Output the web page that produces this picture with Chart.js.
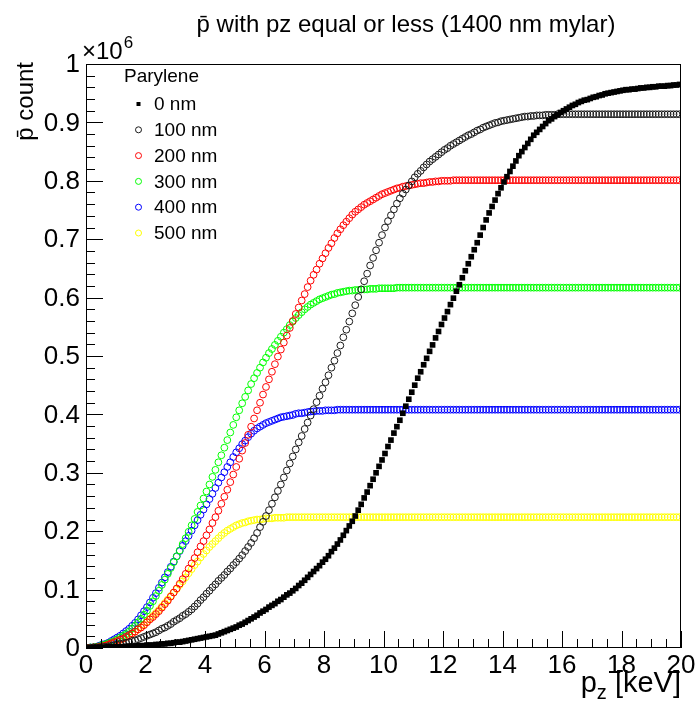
<!DOCTYPE html>
<html>
<head>
<meta charset="utf-8">
<title>pbar pz</title>
<script src="https://cdn.jsdelivr.net/npm/chart.js@4.4.1/dist/chart.umd.min.js"></script>
<style>
    body { margin: 0; background: #fff; }
    canvas { display: block; }
</style>
</head>
<body>
<canvas id="chart" width="695" height="703"></canvas>
<script>
// pz bins, 0.1 keV wide, 0 - 20 keV
const pz = Array.from({ length: 200 }, (_, i) => Math.round((0.05 + i * 0.1) * 100) / 100);

const thicknessLabels = ["0 nm", "100 nm", "200 nm", "300 nm", "400 nm", "500 nm"];
const seriesColors = ["#000000", "#1a1a1a", "#ff0000", "#00ff00", "#0000ff", "#ffff00"];

const xTickLabels = ["0", "2", "4", "6", "8", "10", "12", "14", "16", "18", "20"];
const yTickLabels = ["0", "0.1", "0.2", "0.3", "0.4", "0.5", "0.6", "0.7", "0.8", "0.9", "1"];

// cumulative pbar counts (x 10^6) with pz <= bin, per parylene thickness
const count0nm = [
    0.000, 0.000, 0.001, 0.001, 0.001, 0.001, 0.001, 0.002, 0.002, 0.002,
    0.002, 0.002, 0.002, 0.003, 0.003, 0.003, 0.003, 0.004, 0.004, 0.004,
    0.005, 0.005, 0.005, 0.006, 0.006, 0.007, 0.007, 0.008, 0.008, 0.009,
    0.010, 0.010, 0.011, 0.012, 0.013, 0.014, 0.015, 0.016, 0.017, 0.018,
    0.019, 0.020, 0.021, 0.022, 0.024, 0.026, 0.028, 0.030, 0.032, 0.034,
    0.036, 0.039, 0.041, 0.044, 0.047, 0.050, 0.053, 0.056, 0.060, 0.063,
    0.066, 0.070, 0.073, 0.076, 0.080, 0.083, 0.087, 0.091, 0.094, 0.098,
    0.102, 0.107, 0.111, 0.116, 0.121, 0.126, 0.131, 0.136, 0.141, 0.147,
    0.152, 0.158, 0.165, 0.171, 0.178, 0.185, 0.193, 0.201, 0.209, 0.217,
    0.226, 0.236, 0.246, 0.257, 0.267, 0.278, 0.289, 0.300, 0.311, 0.322,
    0.333, 0.345, 0.356, 0.368, 0.379, 0.390, 0.402, 0.414, 0.426, 0.438,
    0.450, 0.462, 0.473, 0.485, 0.496, 0.508, 0.519, 0.531, 0.542, 0.554,
    0.565, 0.576, 0.588, 0.599, 0.611, 0.622, 0.634, 0.646, 0.658, 0.670,
    0.682, 0.694, 0.707, 0.720, 0.733, 0.745, 0.756, 0.767, 0.778, 0.788,
    0.798, 0.807, 0.816, 0.825, 0.834, 0.843, 0.850, 0.857, 0.864, 0.871,
    0.878, 0.883, 0.888, 0.893, 0.898, 0.903, 0.906, 0.910, 0.913, 0.917,
    0.920, 0.923, 0.926, 0.929, 0.931, 0.934, 0.936, 0.938, 0.939, 0.941,
    0.943, 0.944, 0.946, 0.947, 0.949, 0.950, 0.951, 0.952, 0.953, 0.954,
    0.955, 0.956, 0.956, 0.957, 0.957, 0.958, 0.959, 0.959, 0.960, 0.960,
    0.961, 0.961, 0.962, 0.962, 0.962, 0.963, 0.963, 0.964, 0.964, 0.965
];

const count100nm = [
    0.000, 0.000, 0.001, 0.001, 0.001, 0.002, 0.002, 0.003, 0.004, 0.005,
    0.006, 0.007, 0.008, 0.009, 0.010, 0.012, 0.013, 0.015, 0.017, 0.019,
    0.021, 0.023, 0.025, 0.027, 0.030, 0.033, 0.035, 0.038, 0.041, 0.045,
    0.048, 0.051, 0.055, 0.058, 0.062, 0.066, 0.071, 0.076, 0.082, 0.087,
    0.093, 0.098, 0.104, 0.109, 0.115, 0.120, 0.125, 0.131, 0.136, 0.142,
    0.147, 0.153, 0.159, 0.166, 0.173, 0.180, 0.188, 0.197, 0.207, 0.216,
    0.226, 0.236, 0.247, 0.258, 0.269, 0.280, 0.292, 0.304, 0.316, 0.328,
    0.340, 0.352, 0.363, 0.375, 0.386, 0.398, 0.409, 0.421, 0.432, 0.444,
    0.455, 0.467, 0.480, 0.492, 0.505, 0.518, 0.532, 0.545, 0.559, 0.573,
    0.587, 0.601, 0.614, 0.628, 0.641, 0.655, 0.668, 0.681, 0.694, 0.707,
    0.720, 0.731, 0.741, 0.751, 0.761, 0.770, 0.778, 0.785, 0.792, 0.799,
    0.806, 0.812, 0.817, 0.823, 0.828, 0.833, 0.837, 0.841, 0.845, 0.849,
    0.853, 0.856, 0.860, 0.863, 0.866, 0.869, 0.872, 0.875, 0.878, 0.880,
    0.883, 0.886, 0.888, 0.891, 0.893, 0.895, 0.897, 0.899, 0.900, 0.902,
    0.903, 0.904, 0.905, 0.906, 0.907, 0.908, 0.909, 0.910, 0.910, 0.911,
    0.911, 0.912, 0.912, 0.912, 0.913, 0.913, 0.913, 0.913, 0.914, 0.914,
    0.914, 0.914, 0.914, 0.914, 0.914, 0.914, 0.914, 0.914, 0.914, 0.914,
    0.914, 0.914, 0.914, 0.914, 0.914, 0.914, 0.914, 0.914, 0.914, 0.914,
    0.914, 0.914, 0.914, 0.914, 0.914, 0.914, 0.914, 0.914, 0.914, 0.914,
    0.914, 0.914, 0.914, 0.914, 0.914, 0.914, 0.914, 0.914, 0.914, 0.914
];

const count200nm = [
    0.000, 0.000, 0.001, 0.001, 0.002, 0.003, 0.004, 0.006, 0.008, 0.010,
    0.012, 0.014, 0.016, 0.019, 0.022, 0.025, 0.028, 0.032, 0.035, 0.039,
    0.044, 0.049, 0.053, 0.058, 0.063, 0.069, 0.075, 0.081, 0.088, 0.095,
    0.102, 0.110, 0.118, 0.127, 0.136, 0.145, 0.154, 0.164, 0.174, 0.183,
    0.193, 0.203, 0.214, 0.224, 0.235, 0.247, 0.259, 0.271, 0.284, 0.297,
    0.310, 0.324, 0.338, 0.351, 0.365, 0.379, 0.393, 0.407, 0.420, 0.434,
    0.447, 0.460, 0.473, 0.486, 0.499, 0.511, 0.523, 0.535, 0.548, 0.560,
    0.572, 0.583, 0.595, 0.606, 0.618, 0.629, 0.639, 0.648, 0.658, 0.667,
    0.676, 0.685, 0.693, 0.702, 0.710, 0.717, 0.724, 0.730, 0.736, 0.742,
    0.747, 0.751, 0.755, 0.759, 0.762, 0.765, 0.768, 0.771, 0.774, 0.777,
    0.779, 0.781, 0.783, 0.785, 0.787, 0.788, 0.790, 0.791, 0.792, 0.793,
    0.794, 0.795, 0.796, 0.796, 0.797, 0.798, 0.798, 0.799, 0.799, 0.800,
    0.800, 0.800, 0.800, 0.801, 0.801, 0.801, 0.801, 0.801, 0.801, 0.801,
    0.801, 0.801, 0.801, 0.801, 0.801, 0.801, 0.801, 0.801, 0.801, 0.801,
    0.801, 0.801, 0.801, 0.801, 0.801, 0.801, 0.801, 0.801, 0.801, 0.801,
    0.801, 0.801, 0.801, 0.801, 0.801, 0.801, 0.801, 0.801, 0.801, 0.801,
    0.801, 0.801, 0.801, 0.801, 0.801, 0.801, 0.801, 0.801, 0.801, 0.801,
    0.801, 0.801, 0.801, 0.801, 0.801, 0.801, 0.801, 0.801, 0.801, 0.801,
    0.801, 0.801, 0.801, 0.801, 0.801, 0.801, 0.801, 0.801, 0.801, 0.801,
    0.801, 0.801, 0.801, 0.801, 0.801, 0.801, 0.801, 0.801, 0.801, 0.801
];

const count300nm = [
    0.000, 0.001, 0.001, 0.002, 0.003, 0.005, 0.006, 0.008, 0.010, 0.012,
    0.015, 0.018, 0.021, 0.024, 0.028, 0.033, 0.038, 0.044, 0.050, 0.057,
    0.064, 0.072, 0.080, 0.089, 0.098, 0.108, 0.117, 0.127, 0.137, 0.147,
    0.157, 0.167, 0.178, 0.188, 0.199, 0.210, 0.221, 0.233, 0.244, 0.256,
    0.268, 0.280, 0.293, 0.305, 0.318, 0.330, 0.343, 0.356, 0.369, 0.382,
    0.395, 0.407, 0.419, 0.430, 0.441, 0.452, 0.462, 0.471, 0.480, 0.489,
    0.497, 0.505, 0.512, 0.519, 0.526, 0.533, 0.540, 0.546, 0.553, 0.559,
    0.565, 0.570, 0.575, 0.580, 0.584, 0.588, 0.591, 0.594, 0.597, 0.599,
    0.601, 0.603, 0.605, 0.606, 0.608, 0.609, 0.610, 0.611, 0.612, 0.612,
    0.613, 0.613, 0.614, 0.614, 0.614, 0.615, 0.615, 0.615, 0.616, 0.616,
    0.616, 0.616, 0.616, 0.616, 0.617, 0.617, 0.617, 0.617, 0.617, 0.617,
    0.617, 0.617, 0.617, 0.617, 0.617, 0.617, 0.617, 0.617, 0.617, 0.617,
    0.617, 0.617, 0.617, 0.617, 0.617, 0.617, 0.617, 0.617, 0.617, 0.617,
    0.617, 0.617, 0.617, 0.617, 0.617, 0.617, 0.617, 0.617, 0.617, 0.617,
    0.617, 0.617, 0.617, 0.617, 0.617, 0.617, 0.617, 0.617, 0.617, 0.617,
    0.617, 0.617, 0.617, 0.617, 0.617, 0.617, 0.617, 0.617, 0.617, 0.617,
    0.617, 0.617, 0.617, 0.617, 0.617, 0.617, 0.617, 0.617, 0.617, 0.617,
    0.617, 0.617, 0.617, 0.617, 0.617, 0.617, 0.617, 0.617, 0.617, 0.617,
    0.617, 0.617, 0.617, 0.617, 0.617, 0.617, 0.617, 0.617, 0.617, 0.617,
    0.617, 0.617, 0.617, 0.617, 0.617, 0.617, 0.617, 0.617, 0.617, 0.617
];

const count400nm = [
    0.000, 0.001, 0.001, 0.002, 0.004, 0.006, 0.007, 0.009, 0.012, 0.015,
    0.018, 0.021, 0.025, 0.029, 0.033, 0.038, 0.043, 0.049, 0.056, 0.063,
    0.070, 0.078, 0.086, 0.094, 0.103, 0.112, 0.121, 0.130, 0.139, 0.148,
    0.157, 0.166, 0.175, 0.183, 0.192, 0.201, 0.210, 0.219, 0.228, 0.237,
    0.246, 0.255, 0.264, 0.274, 0.283, 0.292, 0.301, 0.310, 0.318, 0.327,
    0.335, 0.342, 0.349, 0.355, 0.361, 0.367, 0.372, 0.376, 0.379, 0.382,
    0.385, 0.387, 0.389, 0.391, 0.393, 0.395, 0.396, 0.397, 0.398, 0.399,
    0.401, 0.402, 0.402, 0.403, 0.404, 0.405, 0.405, 0.406, 0.406, 0.406,
    0.407, 0.407, 0.407, 0.407, 0.408, 0.408, 0.408, 0.408, 0.408, 0.408,
    0.408, 0.408, 0.408, 0.408, 0.408, 0.408, 0.408, 0.408, 0.408, 0.408,
    0.408, 0.408, 0.408, 0.408, 0.408, 0.408, 0.408, 0.408, 0.408, 0.408,
    0.408, 0.408, 0.408, 0.408, 0.408, 0.408, 0.408, 0.408, 0.408, 0.408,
    0.408, 0.408, 0.408, 0.408, 0.408, 0.408, 0.408, 0.408, 0.408, 0.408,
    0.408, 0.408, 0.408, 0.408, 0.408, 0.408, 0.408, 0.408, 0.408, 0.408,
    0.408, 0.408, 0.408, 0.408, 0.408, 0.408, 0.408, 0.408, 0.408, 0.408,
    0.408, 0.408, 0.408, 0.408, 0.408, 0.408, 0.408, 0.408, 0.408, 0.408,
    0.408, 0.408, 0.408, 0.408, 0.408, 0.408, 0.408, 0.408, 0.408, 0.408,
    0.408, 0.408, 0.408, 0.408, 0.408, 0.408, 0.408, 0.408, 0.408, 0.408,
    0.408, 0.408, 0.408, 0.408, 0.408, 0.408, 0.408, 0.408, 0.408, 0.408,
    0.408, 0.408, 0.408, 0.408, 0.408, 0.408, 0.408, 0.408, 0.408, 0.408
];

const count500nm = [
    0.000, 0.000, 0.001, 0.001, 0.002, 0.004, 0.005, 0.006, 0.008, 0.010,
    0.012, 0.014, 0.016, 0.019, 0.022, 0.025, 0.028, 0.032, 0.036, 0.040,
    0.045, 0.050, 0.055, 0.060, 0.065, 0.071, 0.077, 0.083, 0.089, 0.095,
    0.101, 0.108, 0.114, 0.121, 0.128, 0.135, 0.142, 0.148, 0.155, 0.161,
    0.167, 0.173, 0.178, 0.183, 0.188, 0.193, 0.197, 0.201, 0.204, 0.207,
    0.210, 0.212, 0.214, 0.215, 0.217, 0.218, 0.219, 0.220, 0.220, 0.221,
    0.222, 0.222, 0.222, 0.223, 0.223, 0.223, 0.223, 0.224, 0.224, 0.224,
    0.224, 0.224, 0.224, 0.224, 0.224, 0.224, 0.224, 0.224, 0.224, 0.224,
    0.224, 0.224, 0.224, 0.224, 0.224, 0.224, 0.224, 0.224, 0.224, 0.224,
    0.224, 0.224, 0.224, 0.224, 0.224, 0.224, 0.224, 0.224, 0.224, 0.224,
    0.224, 0.224, 0.224, 0.224, 0.224, 0.224, 0.224, 0.224, 0.224, 0.224,
    0.224, 0.224, 0.224, 0.224, 0.224, 0.224, 0.224, 0.224, 0.224, 0.224,
    0.224, 0.224, 0.224, 0.224, 0.224, 0.224, 0.224, 0.224, 0.224, 0.224,
    0.224, 0.224, 0.224, 0.224, 0.224, 0.224, 0.224, 0.224, 0.224, 0.224,
    0.224, 0.224, 0.224, 0.224, 0.224, 0.224, 0.224, 0.224, 0.224, 0.224,
    0.224, 0.224, 0.224, 0.224, 0.224, 0.224, 0.224, 0.224, 0.224, 0.224,
    0.224, 0.224, 0.224, 0.224, 0.224, 0.224, 0.224, 0.224, 0.224, 0.224,
    0.224, 0.224, 0.224, 0.224, 0.224, 0.224, 0.224, 0.224, 0.224, 0.224,
    0.224, 0.224, 0.224, 0.224, 0.224, 0.224, 0.224, 0.224, 0.224, 0.224,
    0.224, 0.224, 0.224, 0.224, 0.224, 0.224, 0.224, 0.224, 0.224, 0.224
];

const counts = [count0nm, count100nm, count200nm, count300nm, count400nm, count500nm];

const FONT = '"Liberation Sans", Arial, Helvetica, sans-serif';

// frame, inward ticks, labels, titles and the legend drawn on top of the points
const rootStyle = {
    id: "rootStyle",
    afterDatasetsDraw(chart) {
        const { ctx, chartArea: a, scales: { x, y } } = chart;
        ctx.save();
        ctx.strokeStyle = "#000";
        ctx.fillStyle = "#000";
        ctx.lineWidth = 1;

        // frame
        ctx.strokeRect(Math.round(a.left) + 0.5, Math.round(a.top) + 0.5,
            Math.round(a.right - a.left) - 1, Math.round(a.bottom - a.top) - 1);

        // x ticks: major every 2, minor every 0.5
        ctx.beginPath();
        for (let v = 0; v <= 20.001; v += 0.5) {
            const px = Math.round(x.getPixelForValue(v)) + 0.5;
            const len = Math.abs(v % 2) < 0.001 ? 17 : 9;
            ctx.moveTo(px, a.bottom);
            ctx.lineTo(px, a.bottom - len);
        }
        // y ticks: major every 0.1, minor every 0.02
        for (let k = 0; k <= 50; k++) {
            const py = Math.round(y.getPixelForValue(k * 0.02)) + 0.5;
            const len = k % 5 === 0 ? 17 : 9;
            ctx.moveTo(a.left, py);
            ctx.lineTo(a.left + len, py);
        }
        ctx.stroke();

        // tick labels
        ctx.font = "26px " + FONT;
        ctx.textAlign = "center";
        ctx.textBaseline = "top";
        xTickLabels.forEach(t => {
            ctx.fillText(t, x.getPixelForValue(Number(t)), a.bottom + 5);
        });
        ctx.textAlign = "right";
        ctx.textBaseline = "middle";
        yTickLabels.forEach(t => {
            ctx.fillText(t, a.left - 6, y.getPixelForValue(Number(t)) + 1);
        });

        // exponent above the y axis
        ctx.textAlign = "left";
        ctx.textBaseline = "alphabetic";
        ctx.font = "24px " + FONT;
        ctx.fillText("\u00d710", a.left - 4, a.top - 5);
        const w10 = ctx.measureText("\u00d710").width;
        ctx.font = "17px " + FONT;
        ctx.fillText("6", a.left - 4 + w10 + 1, a.top - 16);

        // title
        ctx.font = "24px " + FONT;
        ctx.textAlign = "center";
        ctx.fillText("p\u0304 with pz equal or less (1400 nm mylar)", 406, 32);

        // x axis title, right aligned
        ctx.textAlign = "left";
        ctx.font = "29px " + FONT;
        const rest = " [keV]";
        const wp = ctx.measureText("p").width;
        const wr = ctx.measureText(rest).width;
        ctx.font = "20px " + FONT;
        const wz = ctx.measureText("z").width;
        const tx = a.right - wr - wz - wp;
        ctx.font = "29px " + FONT;
        ctx.fillText("p", tx, 692);
        ctx.font = "20px " + FONT;
        ctx.fillText("z", tx + wp, 699);
        ctx.font = "29px " + FONT;
        ctx.fillText(rest, tx + wp + wz, 692);

        // y axis title, rotated, aligned to the top end
        ctx.save();
        ctx.font = "24px " + FONT;
        ctx.translate(33, a.top - 2);
        ctx.rotate(-Math.PI / 2);
        ctx.textAlign = "right";
        ctx.fillText("p\u0304 count", 0, 0);
        ctx.restore();

        // legend
        ctx.font = "19px " + FONT;
        ctx.textAlign = "left";
        ctx.textBaseline = "middle";
        ctx.fillText("Parylene", 124, 77);
        chart.data.datasets.forEach((ds, i) => {
            const ly = 104 + i * 25.8;
            ctx.fillStyle = "#000";
            ctx.fillText(ds.label, 154, ly + 1);
            if (i === 0) {
                ctx.fillRect(136.5, ly - 2, 4, 4);
            } else {
                ctx.strokeStyle = ds.borderColor;
                ctx.beginPath();
                ctx.arc(138.5, ly, 3, 0, Math.PI * 2);
                ctx.stroke();
            }
        });
        ctx.restore();
    }
};

const ctx = document.getElementById("chart");

const chart = new Chart(ctx, {
    type: "scatter",
    data: {
        datasets: thicknessLabels.map((label, i) => ({
            label: label,
            data: pz.map((p, j) => ({ x: p, y: counts[i][j] })),
            pointStyle: i === 0 ? "rect" : "circle",
            pointRadius: i === 0 ? 4 : 3.4,
            borderWidth: i === 0 ? 0 : 1,
            borderColor: seriesColors[i],
            backgroundColor: i === 0 ? seriesColors[i] : "rgba(0,0,0,0)"
        }))
    },
    options: {
        responsive: false,
        animation: false,
        events: [],
        devicePixelRatio: 1,
        layout: {
            padding: { left: 86, right: 14, top: 64, bottom: 55 }
        },
        plugins: {
            legend: { display: false },
            tooltip: { enabled: false }
        },
        scales: {
            x: { type: "linear", min: 0, max: 20, display: false },
            y: { type: "linear", min: 0, max: 1, display: false }
        }
    },
    plugins: [rootStyle]
});
</script>
</body>
</html>
